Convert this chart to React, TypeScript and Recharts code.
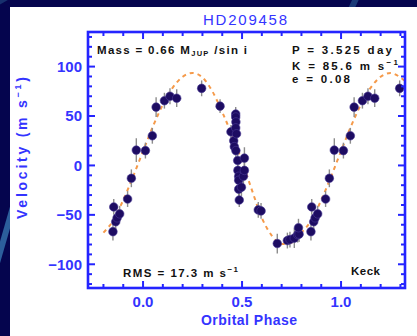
import { ComposedChart, XAxis, YAxis, Line, Scatter, ErrorBar } from 'recharts';

// HD209458 radial velocity curve, Keck data (phase folded, wrapped copies included)
const phases = [
  -0.152, -0.148, -0.138, -0.131, -0.118, -0.078, -0.059, -0.034,
  0.012, 0.047, 0.066, 0.108, 0.136, 0.17, 0.296,
  0.389, 0.444, 0.458, 0.461, 0.468, 0.468, 0.469, 0.468, 0.472, 0.469,
  0.478, 0.479, 0.483, 0.483, 0.483, 0.486, 0.497, 0.507, 0.512, 0.512,
  0.582, 0.596, 0.678, 0.729, 0.742, 0.764, 0.781, 0.788, 0.785,
  0.848, 0.852, 0.862, 0.869, 0.882, 0.922, 0.941, 0.966,
  1.012, 1.047, 1.066, 1.108, 1.136, 1.17, 1.296,
];
const velocities = [
  -67, -42, -57, -53, -49, -34, -13, 15.5,
  15, 30, 59, 65.5, 70, 68, 78,
  60, 34, 25, 19, 52, 49, 44, 38, 32, 15,
  5, -5, -11, -15, -24, -35, -22, -11, 7.4, -5,
  -45, -46, -79, -76, -75, -73.5, -70, -69.5, -63,
  -67, -42, -57, -53, -49, -34, -13, 15.5,
  15, 30, 59, 65.5, 70, 68, 78,
];
const errors = [
  9, 8, 8, 8, 8, 8, 9, 12,
  8, 8, 10, 8, 8, 9, 8,
  7, 7, 7, 7, 7, 7, 7, 7, 7, 8,
  7, 7, 7, 7, 7, 7, 9, 8, 11, 8,
  8, 8, 10, 8, 8, 10, 8, 8, 9,
  9, 8, 8, 8, 8, 8, 9, 12,
  8, 8, 10, 8, 8, 9, 8,
];

// orbit fit (dashed)
const fitPhase = [
  -0.2, -0.15, -0.1, -0.05, 0, 0.05, 0.1, 0.15, 0.2, 0.25, 0.3, 0.35, 0.4, 0.45, 0.5, 0.55,
  0.6, 0.65, 0.7, 0.75, 0.8, 0.85, 0.9, 0.95, 1.0, 1.05, 1.1, 1.15, 1.2, 1.25, 1.3, 1.32,
];
const fitVelocity = [
  -68, -55.5, -35, -11, 14.5, 39.5, 61.5, 78.7, 89.7, 93.5, 89, 75, 54, 30, 4, -25,
  -53, -71, -79.5, -78, -68, -55.5, -35, -11, 14.5, 39.5, 61.5, 78.7, 89.7, 93.5, 89, 86,
];

const xTicks = [-0.2, -0.1, 0, 0.1, 0.2, 0.3, 0.4, 0.5, 0.6, 0.7, 0.8, 0.9, 1.0, 1.1, 1.2, 1.3];
const xLabelled = [0, 0.5, 1.0];
const yTicks = [-120, -110, -100, -90, -80, -70, -60, -50, -40, -30, -20, -10, 0, 10, 20, 30, 40, 50, 60, 70, 80, 90, 100, 110, 120, 130];
const yLabelled = [-100, -50, 0, 50, 100];

const points = phases.map((phase, i) => ({ phase, v: velocities[i], err: errors[i] }));
const fit = fitPhase.map((phase, i) => ({ phase, v: fitVelocity[i] }));

const W = 417;
const H = 336;
const PLOT = { left: 88, top: 32, right: 405, bottom: 288 };
const BLUE = '#2424ff';
const LABEL_BLUE = '#3434ff';
const FONT = '"Liberation Sans", Arial, sans-serif';

const isIn = (list: number[], v: number) => list.some((t) => Math.abs(t - v) < 1e-6);
const fmtY = (v: number) => (v < 0 ? '\u2212' + Math.abs(v) : String(v));

const XTick = ({ x, payload }: any) => {
  const major = isIn(xLabelled, payload.value);
  const len = major ? 7 : 4;
  return (
    <g>
      <line x1={x} x2={x} y1={PLOT.bottom} y2={PLOT.bottom - len} stroke={BLUE} strokeWidth={2} />
      <line x1={x} x2={x} y1={PLOT.top} y2={PLOT.top + len} stroke={BLUE} strokeWidth={2} />
      {major && (
        <text x={x} y={PLOT.bottom + 19} textAnchor="middle" fontFamily={FONT} fontSize={15} fontWeight="bold" fill={LABEL_BLUE}>
          {payload.value.toFixed(1)}
        </text>
      )}
    </g>
  );
};

const YTick = ({ y, payload }: any) => {
  const major = isIn(yLabelled, payload.value);
  const len = major ? 7 : 4;
  return (
    <g>
      <line x1={PLOT.left} x2={PLOT.left + len} y1={y} y2={y} stroke={BLUE} strokeWidth={2} />
      <line x1={PLOT.right} x2={PLOT.right - len} y1={y} y2={y} stroke={BLUE} strokeWidth={2} />
      {major && (
        <text x={PLOT.left - 6} y={y} dy="0.36em" textAnchor="end" fontFamily={FONT} fontSize={15} fontWeight="bold" fill={LABEL_BLUE}>
          {fmtY(payload.value)}
        </text>
      )}
    </g>
  );
};

const Dot = ({ cx, cy }: any) => <circle cx={cx} cy={cy} r={4.3} fill="#1d0c62" stroke="#4a3a95" strokeWidth={0.6} />;

const annot = { fontFamily: FONT, fontSize: 11.5, fontWeight: 'bold' as const, fill: '#111' };

export default function App() {
  return (
    <div style={{ position: 'fixed', left: 0, top: 0, width: W, height: H, background: '#05054e', overflow: 'hidden' }}>
      <div style={{ position: 'absolute', left: 2, top: 200, width: 6, height: 70, background: '#2c5e9c', transform: 'rotate(16deg)' }} />
      <div style={{ position: 'absolute', left: 6, top: -30, width: 7, height: 50, background: '#17306e', transform: 'rotate(60deg)' }} />
      <div style={{ position: 'absolute', left: 350, top: -10, width: 6, height: 30, background: '#1a3a78', transform: 'rotate(25deg)' }} />
      <div style={{ position: 'absolute', left: 10, top: 7, right: 0, bottom: 0, background: '#ffffff' }} />

      <div style={{ position: 'absolute', left: 0, top: 0 }}>
        <ComposedChart width={W} height={H}
          margin={{ top: PLOT.top, right: W - PLOT.right, bottom: H - PLOT.bottom - 1, left: PLOT.left - 1 }}>
          <XAxis type="number" dataKey="phase" domain={[-0.278, 1.323]} ticks={xTicks} interval={0}
            tick={XTick} tickLine={false} axisLine={false} height={1} allowDataOverflow />
          <YAxis type="number" dataKey="v" domain={[-124, 135]} ticks={yTicks} interval={0}
            tick={YTick} tickLine={false} axisLine={false} width={1} allowDataOverflow />
          <Line data={fit} dataKey="v" type="monotone" stroke="#f59a4a"
            strokeWidth={2} strokeDasharray="4 4" dot={false} isAnimationActive={false} />
          <Scatter data={points} dataKey="v" shape={Dot} isAnimationActive={false}>
            <ErrorBar dataKey="err" direction="y" width={0} stroke="#8c8c8c" strokeWidth={1.4} />
          </Scatter>
        </ComposedChart>
      </div>

      <svg width={W} height={H} style={{ position: 'absolute', left: 0, top: 0, pointerEvents: 'none' }}>
        <rect x={PLOT.left} y={PLOT.top} width={PLOT.right - PLOT.left} height={PLOT.bottom - PLOT.top}
          fill="none" stroke={BLUE} strokeWidth={2.6} />
        <text x={245} y={25} textAnchor="middle" fontFamily={FONT} fontSize={15} fill={LABEL_BLUE} textLength={84}>HD209458</text>
        <text x={249} y={325} textAnchor="middle" fontFamily={FONT} fontSize={14} fontWeight="bold" fill={LABEL_BLUE} textLength={96}>
          Orbital Phase
        </text>
        <text transform="translate(27,148) rotate(-90)" textAnchor="middle" fontFamily={FONT} fontSize={14} fontWeight="bold"
          fill={LABEL_BLUE} textLength={142}>
          Velocity  (m s<tspan fontSize={9} dy={-6}>−1</tspan><tspan dy={6}>)</tspan>
        </text>

        <text x={97} y={54} {...annot} textLength={150}>
          Mass = 0.66 M<tspan fontSize={7.5} dy={2}>JUP</tspan><tspan dy={-2}> /sin i</tspan>
        </text>
        <text x={292} y={54} {...annot} textLength={100}>P = 3.525 day</text>
        <text x={292} y={70} {...annot} textLength={106}>
          K = 85.6 m s<tspan fontSize={8} dy={-5}>−1</tspan>
        </text>
        <text x={292} y={83} {...annot} textLength={58}>e = 0.08</text>
        <text x={123} y={277} {...annot} textLength={115}>
          RMS = 17.3 m s<tspan fontSize={8} dy={-5}>−1</tspan>
        </text>
        <text x={351} y={275} {...annot} textLength={29}>Keck</text>
      </svg>
    </div>
  );
}
